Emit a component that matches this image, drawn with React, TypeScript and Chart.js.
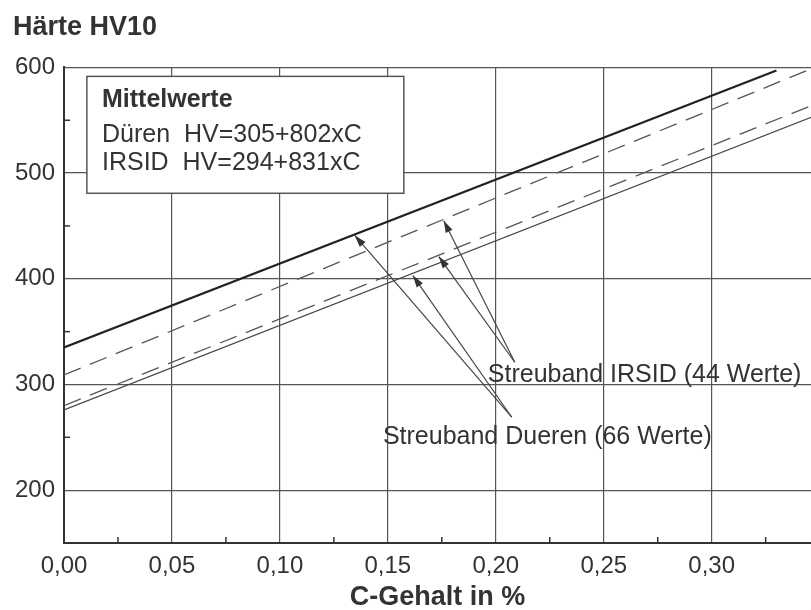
import { useEffect, useRef } from 'react';
import { Chart, registerables } from 'chart.js';

Chart.register(...registerables);

const FONT = '"Liberation Sans", Arial, Helvetica, sans-serif';
const INK = '#333333';

// Axes
const xTickValues = [0, 0.05, 0.1, 0.15, 0.2, 0.25, 0.3];
const xTickLabels = ['0,00', '0,05', '0,10', '0,15', '0,20', '0,25', '0,30'];
const yTickValues = [200, 300, 400, 500, 600];
const yTickLabels = ['200', '300', '400', '500', '600'];
const xMinorTicks = [0.025, 0.075, 0.125, 0.175, 0.225, 0.275, 0.325];
const yMinorTicks = [250, 350, 450, 550];

// Scatter bands (C-Gehalt in %, Härte HV10)
const duerenUpperC = [0, 0.33];
const duerenUpperHV = [335, 597];
const irsidUpperC = [0, 0.35];
const irsidUpperHV = [309, 602];
const irsidLowerC = [0, 0.35];
const irsidLowerHV = [280, 567];
const duerenLowerC = [0, 0.35];
const duerenLowerHV = [276, 556];

// Legend box (data coordinates)
const legendTitle = 'Mittelwerte';
const legendLines = ['Düren  HV=305+802xC', 'IRSID  HV=294+831xC'];
const legendBoxC = [0.0106, 0.1574];
const legendBoxHV = [591.5, 480.9];
const legendTextC = 0.0176;
const legendTextHV = [568.8, 535.7, 509.2];

// Band labels and arrows (data coordinates)
const labelTexts = ['Streuband IRSID (44 Werte)', 'Streuband Dueren (66 Werte)'];
const labelC = [0.1963, 0.1477];
const labelHV = [308.7, 250];
const irsidArrowTail = [0.2088, 321];
const irsidArrowHeads = [
  [0.1759, 455],
  [0.1736, 421],
];
const duerenArrowTail = [0.2074, 269];
const duerenArrowHeads = [
  [0.1347, 441],
  [0.1616, 403],
];

const pts = (cs: number[], hvs: number[]) => cs.map((c, i) => ({ x: c, y: hvs[i] }));

function drawArrow(ctx: CanvasRenderingContext2D, x0: number, y0: number, x1: number, y1: number) {
  ctx.beginPath();
  ctx.moveTo(x0, y0);
  ctx.lineTo(x1, y1);
  ctx.stroke();
  const a = Math.atan2(y1 - y0, x1 - x0);
  const L = 12;
  const W = 3.8;
  ctx.beginPath();
  ctx.moveTo(x1, y1);
  ctx.lineTo(x1 - L * Math.cos(a) + W * Math.sin(a), y1 - L * Math.sin(a) - W * Math.cos(a));
  ctx.lineTo(x1 - L * Math.cos(a) - W * Math.sin(a), y1 - L * Math.sin(a) + W * Math.cos(a));
  ctx.closePath();
  ctx.fill();
}

const annotationPlugin = {
  id: 'annotations',
  beforeDatasetsDraw(chart: any) {
    const { ctx } = chart;
    const xs = chart.scales.x;
    const ys = chart.scales.y;
    const x1 = xs.getPixelForValue(legendBoxC[0]);
    const x2 = xs.getPixelForValue(legendBoxC[1]);
    const y1 = ys.getPixelForValue(legendBoxHV[0]);
    const y2 = ys.getPixelForValue(legendBoxHV[1]);
    ctx.save();
    ctx.fillStyle = '#ffffff';
    ctx.fillRect(x1, y1, x2 - x1, y2 - y1);
    ctx.strokeStyle = '#555555';
    ctx.lineWidth = 1.5;
    ctx.strokeRect(x1, y1, x2 - x1, y2 - y1);
    ctx.fillStyle = INK;
    ctx.textAlign = 'left';
    ctx.textBaseline = 'middle';
    const tx = xs.getPixelForValue(legendTextC);
    ctx.font = `bold 25px ${FONT}`;
    ctx.fillText(legendTitle, tx, ys.getPixelForValue(legendTextHV[0]));
    ctx.font = `25px ${FONT}`;
    legendLines.forEach((t, i) => ctx.fillText(t, tx, ys.getPixelForValue(legendTextHV[i + 1])));
    ctx.restore();
  },
  afterDatasetsDraw(chart: any) {
    const { ctx } = chart;
    const xs = chart.scales.x;
    const ys = chart.scales.y;
    ctx.save();
    ctx.strokeStyle = '#444444';
    ctx.fillStyle = '#333333';
    ctx.lineWidth = 1.2;
    const groups: [number[], number[][]][] = [
      [irsidArrowTail, irsidArrowHeads],
      [duerenArrowTail, duerenArrowHeads],
    ];
    groups.forEach(([tail, heads]) => {
      const tx = xs.getPixelForValue(tail[0]);
      const ty = ys.getPixelForValue(tail[1]);
      heads.forEach((h) => drawArrow(ctx, tx, ty, xs.getPixelForValue(h[0]), ys.getPixelForValue(h[1])));
    });
    ctx.fillStyle = INK;
    ctx.font = `25px ${FONT}`;
    ctx.textAlign = 'left';
    ctx.textBaseline = 'middle';
    labelTexts.forEach((t, i) => ctx.fillText(t, xs.getPixelForValue(labelC[i]), ys.getPixelForValue(labelHV[i])));

    // minor ticks pointing inside
    ctx.strokeStyle = '#333333';
    ctx.lineWidth = 1.5;
    const left = chart.chartArea.left;
    const bottom = chart.chartArea.bottom;
    xMinorTicks.forEach((v) => {
      const x = xs.getPixelForValue(v);
      ctx.beginPath();
      ctx.moveTo(x, bottom);
      ctx.lineTo(x, bottom - 6);
      ctx.stroke();
    });
    yMinorTicks.forEach((v) => {
      const y = ys.getPixelForValue(v);
      ctx.beginPath();
      ctx.moveTo(left, y);
      ctx.lineTo(left + 6, y);
      ctx.stroke();
    });
    ctx.restore();
  },
};

export default function App() {
  const ref = useRef<HTMLCanvasElement>(null);
  useEffect(() => {
    const chart = new Chart(ref.current as HTMLCanvasElement, {
      type: 'line',
      data: {
        datasets: [
          {
            label: 'Streuband Düren oben',
            data: pts(duerenUpperC, duerenUpperHV),
            borderColor: '#222222',
            borderWidth: 2.2,
            pointRadius: 0,
          },
          {
            label: 'Streuband IRSID oben',
            data: pts(irsidUpperC, irsidUpperHV),
            borderColor: '#555555',
            borderWidth: 1.3,
            borderDash: [18, 10],
            pointRadius: 0,
          },
          {
            label: 'Streuband IRSID unten',
            data: pts(irsidLowerC, irsidLowerHV),
            borderColor: '#555555',
            borderWidth: 1.3,
            borderDash: [18, 10],
            pointRadius: 0,
          },
          {
            label: 'Streuband Düren unten',
            data: pts(duerenLowerC, duerenLowerHV),
            borderColor: '#444444',
            borderWidth: 1.2,
            pointRadius: 0,
          },
        ],
      },
      options: {
        animation: false,
        responsive: false,
        layout: { padding: { left: 13, right: 0, top: 0, bottom: 0 } },
        plugins: {
          legend: { display: false },
          tooltip: { enabled: false },
          title: {
            display: true,
            text: 'Härte HV10',
            align: 'start',
            color: INK,
            font: { family: FONT, size: 27, weight: 'bold' },
            padding: { top: 11, bottom: 24 },
          },
        },
        scales: {
          x: {
            type: 'linear',
            min: 0,
            max: 0.346,
            afterBuildTicks: (s: any) => {
              s.ticks = xTickValues.map((v) => ({ value: v }));
            },
            afterFit: (s: any) => {
              s.height = 67;
            },
            grid: { color: '#555555', lineWidth: 1.2, drawTicks: false },
            border: { color: '#333333', width: 2 },
            ticks: {
              padding: 9,
              color: INK,
              maxRotation: 0,
              autoSkip: false,
              font: { family: FONT, size: 24 },
              callback: (_v: any, i: number) => xTickLabels[i],
            },
            title: {
              display: true,
              text: 'C-Gehalt in %',
              color: INK,
              font: { family: FONT, size: 27, weight: 'bold' },
              padding: { top: 0, bottom: -4 },
            },
          },
          y: {
            type: 'linear',
            min: 150,
            max: 600,
            afterBuildTicks: (s: any) => {
              s.ticks = yTickValues.map((v) => ({ value: v }));
            },
            afterFit: (s: any) => {
              s.width = 51;
            },
            grid: { color: '#555555', lineWidth: 1.2, drawTicks: false },
            border: { color: '#333333', width: 2 },
            ticks: {
              padding: 9,
              color: INK,
              font: { family: FONT, size: 24 },
              callback: (_v: any, i: number) => yTickLabels[i],
            },
          },
        },
      } as any,
      plugins: [annotationPlugin],
    });
    return () => chart.destroy();
  }, []);
  return (
    <div style={{ position: 'absolute', left: 0, top: 0, width: 811, height: 610, background: '#ffffff' }}>
      <canvas ref={ref} width={811} height={610} style={{ display: 'block' }} />
    </div>
  );
}
